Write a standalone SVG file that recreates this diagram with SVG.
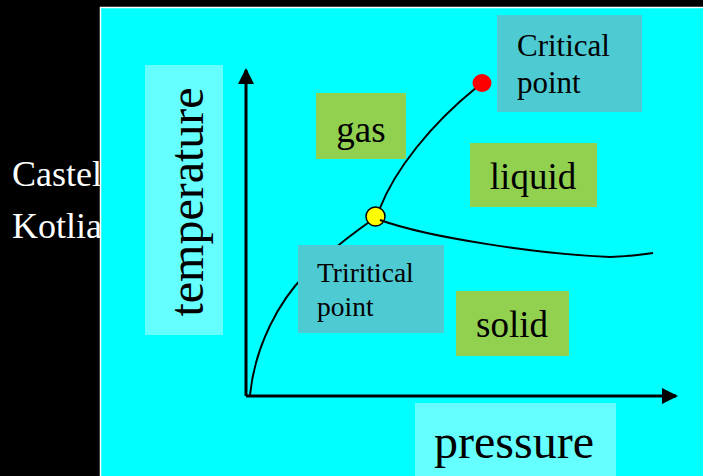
<svg xmlns="http://www.w3.org/2000/svg" width="703" height="476" viewBox="0 0 703 476">
<style>
text{font-family:"Liberation Serif","Times New Roman",serif;fill:#000}
.bg{fill:#000}
.side{fill:#fff;font-size:36px}
.axisbox{fill:#66FFFF}
.phase{fill:#92D050}
.note{fill:#4DCAD2}
.ax{stroke:#000;stroke-width:3;fill:none}
.cv{stroke:#000;stroke-width:2;fill:none}
.big{font-size:48px}
.mid{font-size:37px}
</style>
<defs>
<marker id="ah" markerWidth="16" markerHeight="16" refX="14" refY="8" orient="auto" markerUnits="userSpaceOnUse" viewBox="0 0 16 16">
<path d="M0,0 L16,8 L0,16 Z" fill="#000"/>
</marker>
</defs>
<rect class="bg" x="0" y="0" width="703" height="476"/>
<text class="side" x="12" y="186">Castel</text>
<text class="side" x="12" y="238">Kotlia</text>
<rect x="100.5" y="7.5" width="610" height="480" fill="#00FFFF" stroke="#fff" stroke-width="1.5"/>
<g id="temperature">
<rect class="axisbox" x="145" y="65" width="78" height="270"/>
<text class="big" transform="translate(203,202) rotate(-90)" text-anchor="middle">temperature</text>
</g>
<g id="pressure">
<rect class="axisbox" x="415" y="403" width="201" height="80"/>
<text class="big" x="514" y="458" text-anchor="middle">pressure</text>
</g>
<g id="connectors">
<path class="ax" d="M246,396 V70" marker-end="url(#ah)"/>
<path class="ax" d="M246,396 H676" marker-end="url(#ah)"/>
<path class="cv" d="M250,395 C255,345 280,300 305,275 S355,232 372,220"/>
<path class="cv" d="M380,208 C395,170 430,125 477,87"/>
</g>
<g id="triple-point">
<circle cx="375.5" cy="216.5" r="9.5" fill="#FFFF00" stroke="#000" stroke-width="1.5"/>
</g>
<g id="critical-point-dot">
<ellipse cx="482" cy="83" rx="9.5" ry="9" fill="#FF0000"/>
</g>
<g id="connectors2">
<path class="cv" d="M380,220 C430,238 540,254 610,257 Q635,256 653,253"/>
</g>
<g id="gas">
<rect class="phase" x="316" y="93" width="90" height="66"/>
<text class="mid" x="361" y="142" text-anchor="middle">gas</text>
</g>
<g id="liquid">
<rect class="phase" x="470" y="143" width="127" height="64"/>
<text class="mid" x="533" y="189" text-anchor="middle">liquid</text>
</g>
<g id="solid">
<rect class="phase" x="456" y="291" width="113" height="65"/>
<text class="mid" x="512" y="337" text-anchor="middle">solid</text>
</g>
<g id="critical-point">
<rect class="note" x="497" y="15" width="145" height="97"/>
<text x="517" y="56" font-size="31">Critical</text>
<text x="517" y="93" font-size="31">point</text>
</g>
<g id="tricritical-point">
<rect class="note" x="298" y="245" width="146" height="88"/>
<text x="317" y="282" font-size="27.5">Triritical</text>
<text x="317" y="316" font-size="27.5">point</text>
</g>
</svg>
